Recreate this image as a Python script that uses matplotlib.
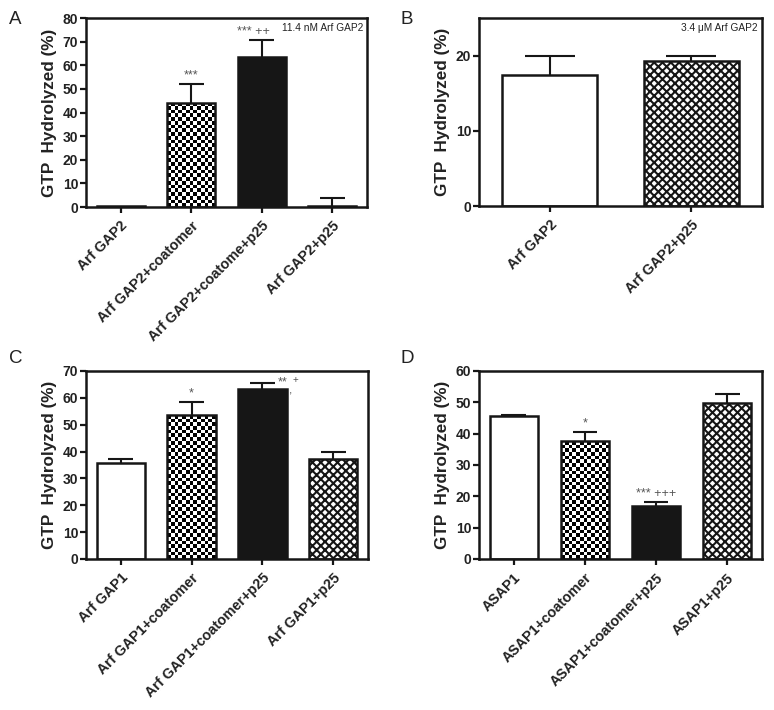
import matplotlib
matplotlib.use('Agg')
import matplotlib.pyplot as plt
import numpy as np

plt.rcParams['font.family'] = ['Liberation Sans', 'DejaVu Sans']
plt.rcParams['hatch.linewidth'] = 1.5

# ---------------- data ----------------
labels_A = ['Arf GAP2', 'Arf GAP2+coatomer', 'Arf GAP2+coatome+p25', 'Arf GAP2+p25']
values_A = [0.5, 44.2, 63.6, 0.6]
errors_A = [0.0, 7.7, 7.2, 3.3]
marks_A = ['', '***', '*** ++', '']
fills_A = ['white', 'checker', 'black', 'cross']
note_A = '11.4 nM Arf GAP2'

labels_B = ['Arf GAP2', 'Arf GAP2+p25']
values_B = [17.4, 19.3]
errors_B = [2.6, 0.6]
marks_B = ['', '']
fills_B = ['white', 'cross']
note_B = '3.4 \u03bcM Arf GAP2'

labels_C = ['Arf GAP1', 'Arf GAP1+coatomer', 'Arf GAP1+coatomer+p25', 'Arf GAP1+p25']
values_C = [35.7, 53.6, 63.4, 37.3]
errors_C = [1.5, 4.9, 2.3, 2.4]
marks_C = ['', '*', '**', '']
marks2_C = ['', '', ',+', '']
fills_C = ['white', 'checker', 'black', 'cross']

labels_D = ['ASAP1', 'ASAP1+coatomer', 'ASAP1+coatomer+p25', 'ASAP1+p25']
values_D = [45.5, 37.6, 17.0, 49.9]
errors_D = [0.4, 2.8, 1.1, 2.9]
marks_D = ['', '*', '*** +++', '']
fills_D = ['white', 'checker', 'black', 'cross']

ylabel = 'GTP  Hydrolyzed (%)'

W, H = 774, 710
fig = plt.figure(figsize=(W / 100, H / 100), dpi=100)

LW = 1.8
TXT = '#222222'
MARKC = '#555555'


def checker_fill(ax, bar, cell_px=3.7):
    x0, y0 = bar.get_x(), bar.get_y()
    w, h = bar.get_width(), bar.get_height()
    px0, py0 = ax.transData.transform((x0, y0))
    px1, py1 = ax.transData.transform((x0 + w, y0 + h))
    nx = max(1, int(round((px1 - px0) / cell_px)))
    ny = max(1, int(round((py1 - py0) / cell_px)))
    arr = np.add.outer(np.arange(ny), np.arange(nx)) % 2
    im = ax.imshow(arr, cmap='gray', extent=(x0, x0 + w, y0, y0 + h), origin='lower',
                   interpolation='nearest', aspect='auto', zorder=1.5, vmin=0, vmax=1)
    im.set_clip_path(bar)


def panel(rect_px, labels, values, errors, marks, fills, ymax, yticks, letter,
          letter_px, note=None, mark_offsets=None, marks2=None):
    l, t, r, b = rect_px
    ax = fig.add_axes([l / W, 1 - b / H, (r - l) / W, (b - t) / H])
    n = len(values)
    x = np.arange(n)
    if n == 2:
        ax.set_xlim(-0.5, 1.5)
        width = 0.67
    else:
        ax.set_xlim(-0.49, 3.49)
        width = 0.68
    ax.set_ylim(0, ymax)
    facemap = {'white': 'white', 'checker': 'none', 'black': '#161616', 'cross': 'white'}
    hatchmap = {'white': None, 'checker': None, 'black': None, 'cross': 'xxxx'}
    for i in range(n):
        bar = ax.bar(x[i], values[i], width=width, facecolor=facemap[fills[i]],
                     edgecolor='#161616', linewidth=LW, hatch=hatchmap[fills[i]],
                     zorder=2)[0]
        if fills[i] == 'checker':
            checker_fill(ax, bar)
        top = values[i] + errors[i]
        if errors[i] > 0:
            ax.vlines(x[i], values[i], top, color='#161616', lw=1.5, zorder=3)
            ax.hlines(top, x[i] - 0.175, x[i] + 0.175, color='#161616', lw=1.5, zorder=3)
        if marks[i]:
            dx, dy, ha = (0, 2, 'center')
            if mark_offsets and i in mark_offsets:
                dx, dy, ha = mark_offsets[i]
            ax.annotate(marks[i], (x[i], top), xytext=(dx, dy),
                        textcoords='offset points', ha=ha, va='bottom', fontsize=9,
                        color=MARKC, annotation_clip=False, zorder=5)
        if marks2 and marks2[i]:
            comma, plus = marks2[i][0], marks2[i][1]
            ax.annotate(comma, (x[i], top), xytext=(19, -10), textcoords='offset points',
                        ha='left', va='bottom', fontsize=8.5, color=MARKC,
                        annotation_clip=False, zorder=5)
            ax.annotate(plus, (x[i], top), xytext=(22, -2), textcoords='offset points',
                        ha='left', va='bottom', fontsize=7, color=MARKC,
                        annotation_clip=False, zorder=5)
    for s in ax.spines.values():
        s.set_linewidth(LW)
        s.set_color('#161616')
    ax.set_yticks(yticks)
    ax.set_xticks(x)
    ax.set_xticklabels(labels, rotation=45, ha='right', va='top', rotation_mode='anchor',
                       fontsize=10.3, fontweight='bold', color=TXT)
    for lab in ax.get_yticklabels():
        lab.set_fontweight('bold')
        lab.set_fontsize(10)
        lab.set_color(TXT)
    ax.tick_params(axis='both', direction='out', length=4.5, width=1.6, color='#161616')
    ax.tick_params(axis='y', pad=1)
    ax.tick_params(axis='x', pad=4)
    ax.set_ylabel(ylabel, fontsize=12.3, fontweight='bold', color=TXT, labelpad=4)
    if note:
        ax.text(0.985, 0.975, note, transform=ax.transAxes, ha='right', va='top',
                fontsize=7.3, color=TXT)
    fig.text(letter_px[0] / W, 1 - letter_px[1] / H, letter, ha='left', va='top',
             fontsize=13.5, color=TXT)
    return ax


panel((86, 18, 367, 207), labels_A, values_A, errors_A, marks_A, fills_A, 80,
      range(0, 81, 10), 'A', (9, 11), note=note_A, mark_offsets={2: (-6, 1, 'center')})
panel((479, 18, 762, 206), labels_B, values_B, errors_B, marks_B, fills_B, 25,
      [0, 10, 20], 'B', (401, 11), note=note_B)
panel((86, 371, 368, 559), labels_C, values_C, errors_C, marks_C, fills_C, 70,
      range(0, 71, 10), 'C', (9, 350), mark_offsets={2: (11, -4, 'left')},
      marks2=marks2_C)
panel((479, 371, 762, 559), labels_D, values_D, errors_D, marks_D, fills_D, 60,
      range(0, 61, 10), 'D', (401, 350))

fig.savefig('out.png', dpi=100)
